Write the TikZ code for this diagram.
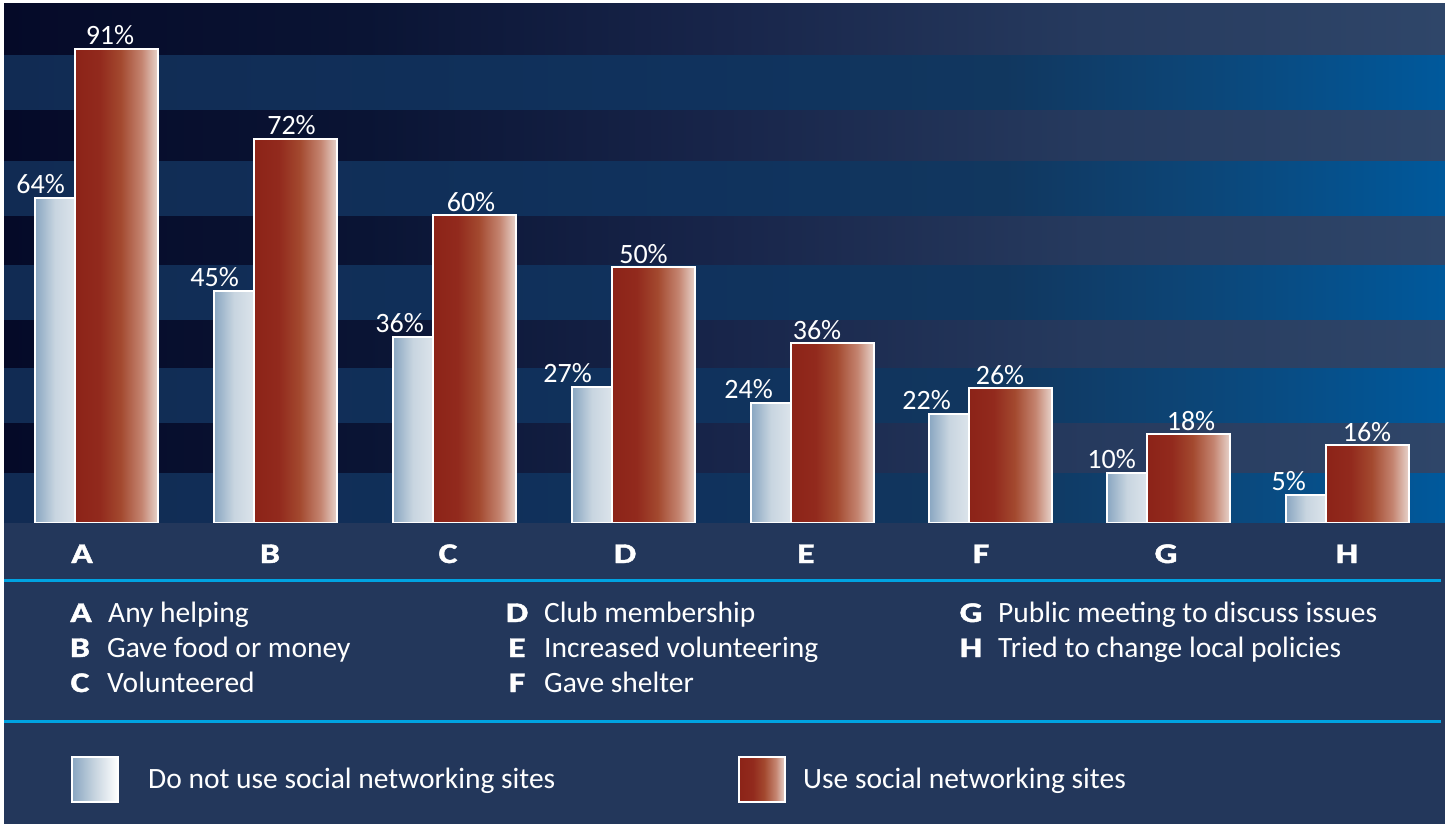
\documentclass[tikz,border=0pt]{standalone}
\usepackage{fontspec}
\setmainfont{Carlito}
\newfontfamily\catfont{Carlito}[FakeStretch=1.25,FakeBold=1.5]
\usetikzlibrary{positioning}

\definecolor{panel}{HTML}{23375B}
\definecolor{rule}{HTML}{00A3E2}
\definecolor{darkA}{HTML}{050A28}
\definecolor{darkB}{HTML}{0A1434}
\definecolor{darkC}{HTML}{18254A}
\definecolor{darkD}{HTML}{263A5E}
\definecolor{darkE}{HTML}{2F4669}
\definecolor{lightA}{HTML}{112B53}
\definecolor{lightB}{HTML}{10325D}
\definecolor{lightC}{HTML}{11375F}
\definecolor{lightD}{HTML}{0C4678}
\definecolor{lightE}{HTML}{00599C}
\definecolor{lowA}{HTML}{89A6C1}
\definecolor{lowB}{HTML}{C8D5E0}
\definecolor{lowC}{HTML}{DCE4EB}
\definecolor{highA}{HTML}{8C2318}
\definecolor{highB}{HTML}{922A1D}
\definecolor{highC}{HTML}{A3492F}
\definecolor{highD}{HTML}{C48470}
\definecolor{highE}{HTML}{E8D4CC}

\pgfdeclarehorizontalshading{darkband}{100bp}{color(0bp)=(darkA); color(25bp)=(darkA); color(37.5bp)=(darkB); color(50bp)=(darkC); color(62.5bp)=(darkD); color(75bp)=(darkE); color(100bp)=(darkE)}
\pgfdeclarehorizontalshading{lightband}{100bp}{color(0bp)=(lightA); color(25bp)=(lightA); color(49bp)=(lightB); color(59.7bp)=(lightC); color(66.7bp)=(lightD); color(75bp)=(lightE); color(100bp)=(lightE)}
\pgfdeclarehorizontalshading{lowshade}{100bp}{color(0bp)=(lowA); color(25bp)=(lowA); color(50bp)=(lowB); color(75bp)=(lowC); color(100bp)=(lowC)}
\pgfdeclarehorizontalshading{keylowshade}{100bp}{color(0bp)=(lowA); color(25bp)=(lowA); color(50bp)=(lowB); color(75bp)=(white); color(100bp)=(white)}
\pgfdeclarehorizontalshading{highshade}{100bp}{color(0bp)=(highA); color(25bp)=(highA); color(40bp)=(highB); color(52.5bp)=(highC); color(65bp)=(highD); color(75bp)=(highE); color(100bp)=(highE)}

\begin{document}
\begin{tikzpicture}[
    x=1pt,
    y=-1pt,
    barframe/.style={
      draw=white,
      line width=2.4pt},
    lowbar/.style={
      shade,
      shading=lowshade,
      barframe},
    highbar/.style={
      shade,
      shading=highshade,
      barframe},
    pctlabel/.style={
      text=white,
      inner sep=0pt,
      font=\fontsize{28}{30}\selectfont},
    catlabel/.style={
      text=white,
      inner sep=0pt,
      anchor=base,
      font=\catfont\bfseries\fontsize{28.5}{30}\selectfont},
    keytext/.style={
      text=white,
      inner sep=0pt,
      anchor=base west,
      font=\fontsize{29.5}{32}\selectfont},
    divider/.style={
      draw=rule,
      line width=3pt},
  ]
  \fill[white] (0,0) rectangle (1445,824);
  \useasboundingbox (0,0) rectangle (1445,824);

  \foreach \top/\bot/\shd in {4/56/darkband, 56/111/lightband, 111/161/darkband,
      161/216/lightband, 216/265/darkband, 265/320/lightband, 320/368/darkband,
      368/423/lightband, 423/473/darkband, 473/523/lightband}
    \shade[shading=\shd] (4,\top) rectangle (1445,\bot);

  \foreach \cat/\bx/\bt/\rt/\bv/\rv/\bl/\rl/\cx in {
      A/35/198/49/64/91/65/110/82,
      B/214/291/139/45/72/239/291.5/270,
      C/393/337/215/36/60/424/471/448,
      D/572/387/267/27/50/592/643.5/625,
      E/751/403/343/24/36/773/817/806,
      F/929/414/388/22/26/951/1000/981,
      G/1107/473/434/10/18/1136/1191/1166,
      H/1286/495/445/5/16/1306/1367/1347} {
    \path[lowbar] (\bx,523) rectangle (\bx+40,\bt);
    \path[highbar] (\bx+40,523) rectangle (\bx+123,\rt);
    \node[pctlabel, anchor=base east] (low-\cat) at (\bl,\bt-5) {\bv\%};
    \node[pctlabel, anchor=base] (high-\cat) at (\rl,\rt-4) {\rv\%};
  }

  \fill[panel] (4,523) rectangle (1445,824);
  \draw[divider] (4,580.5) -- (1441,580.5);
  \draw[divider] (4,721) -- (1441,721);

  \foreach \cat/\cx in {A/82, B/270, C/448, D/625, E/806, F/981, G/1166, H/1347}
    \node[catlabel] (cat-\cat) at (\cx,563) {\cat};

  \foreach \cat/\kx/\ky/\txt in {
      A/81/622/Any helping,
      B/80/657/Gave food or money,
      C/80/692/Volunteered,
      D/517/622/Club membership,
      E/517/657/Increased volunteering,
      F/517/692/Gave shelter,
      G/971/622/Public meeting to discuss issues,
      H/971/657/Tried to change local policies} {
    \node[catlabel] (key-\cat) at (\kx,\ky) {\cat};
    \node[keytext] (txt-\cat) at ([xshift=27pt]key-\cat.base) {\txt};
  }

  \path[barframe, shade, shading=keylowshade, line width=2pt] (72,757) rectangle (118,802);
  \node[keytext] (key-low) at (148,788) {Do not use social networking sites};
  \path[highbar, line width=2pt] (739,757) rectangle (785,802);
  \node[keytext] (key-high) at (803,788) {Use social networking sites};
\end{tikzpicture}
\end{document}
